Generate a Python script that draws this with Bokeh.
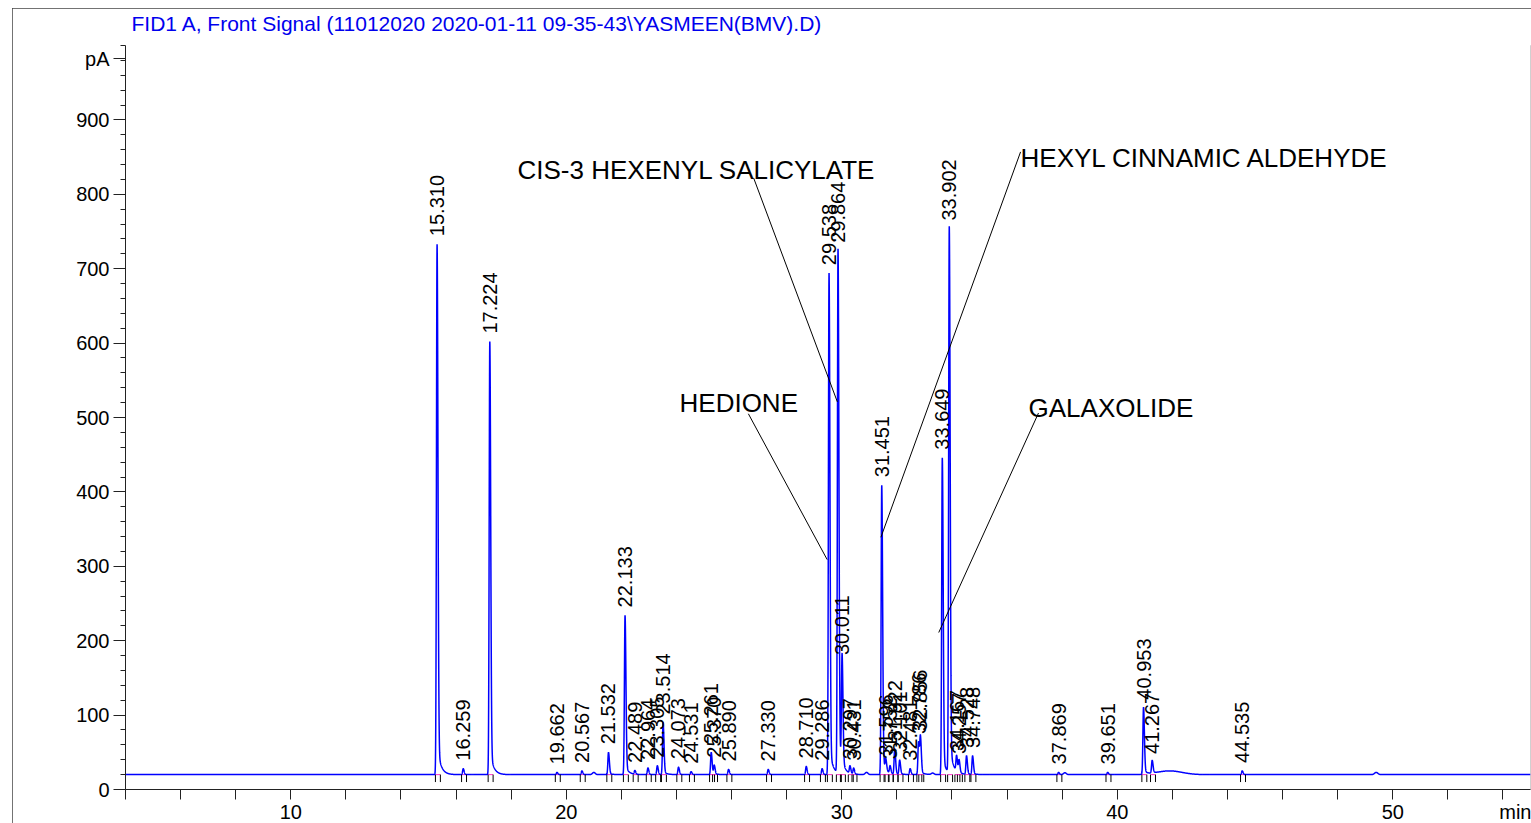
import numpy as np
from bokeh.plotting import figure
from bokeh.models import Range1d, FixedTicker, LinearAxis
from bokeh.core.properties import value
from bokeh.embed import file_html
from bokeh.resources import INLINE

# ---------------- data ----------------
title_text = "FID1 A, Front Signal (11012020 2020-01-11 09-35-43\\YASMEEN(BMV).D)"
title_pos = 16.76
y_unit = "pA"
x_unit = "min"

peak_label = ["15.310", "16.259", "17.224", "19.662", "20.567", "21.532", "22.133",
              "22.489", "22.964", "23.305", "23.514", "24.073", "24.531", "25.261",
              "25.370", "25.890", "27.330", "28.710", "29.286", "29.538", "29.864",
              "30.011", "30.297", "30.431", "31.451", "31.596", "31.752", "31.922",
              "32.101", "32.481", "32.786", "32.856", "33.649", "33.902", "34.167",
              "34.257", "34.528", "34.748", "37.869", "39.651", "40.953", "41.267",
              "44.535"]
peak_rt = [float(s) for s in peak_label]
peak_height = [733, 28, 602, 23, 25, 50, 234,
               25, 29, 32, 90, 30, 24, 50,
               32, 27, 27, 31, 28, 694, 724,
               170, 30, 28, 409, 35, 30, 54,
               39, 28, 64, 68, 446, 754, 41,
               37, 45, 45, 23, 23, 110, 37,
               25]

baseline_level = 20
# small unlabelled bumps / broad humps
bump_rt = [21.00, 30.90, 33.30, 38.10, 41.90, 49.40]
bump_height = [23, 23, 22, 22.5, 25, 23]
bump_width = [0.05, 0.05, 0.05, 0.05, 0.45, 0.06]

x_ticks = [10, 20, 30, 40, 50]
x_minor = list(range(4, 56, 2))
x_unit_pos = 54.7
y_ticks = [0, 100, 200, 300, 400, 500, 600, 700, 800, 900]
y_minor = list(range(0, 1001, 20))
y_unit_pos = 982

ann_text = ["CIS-3 HEXENYL SALICYLATE", "HEDIONE", "HEXYL CINNAMIC ALDEHYDE", "GALAXOLIDE"]
ann_x = [18.23, 24.11, 36.49, 36.78]
ann_y = [833, 519, 849, 513]
ann_x0 = [26.80, 26.61, 36.49, 37.14]
ann_y0 = [822, 505, 857, 506]
ann_x1 = [29.84, 29.47, 31.42, 33.52]
ann_y1 = [521, 309, 339, 211]

# ---------------- signal trace from the peak table ----------------
x = np.union1d(np.arange(4.0, 55.0001, 0.003), np.array(peak_rt))
y = np.full_like(x, float(baseline_level))
for rt, h in zip(peak_rt, peak_height):
    a = h - baseline_level
    d = x - rt
    g_left = np.exp(-0.5 * (d / 0.022) ** 2)
    g_right = np.exp(-0.5 * (d / 0.032) ** 2)
    tail = np.exp(-np.clip(d, 0, None) / 0.12)
    shape = np.where(d < 0, g_left, 0.94 * g_right + 0.06 * tail)
    y += a * shape
for rt, h, w in zip(bump_rt, bump_height, bump_width):
    y += (h - baseline_level) * np.exp(-0.5 * ((x - rt) / w) ** 2)

# ---------------- figure ----------------
p = figure(frame_width=1405, frame_height=744,
           x_range=Range1d(4, 55), y_range=Range1d(0, 1000),
           min_border_left=113, min_border_right=1,
           min_border_top=37, min_border_bottom=33,
           output_backend="svg", toolbar_location=None,
           background_fill_color="white", border_fill_color="white")
p.margin = (8, 0, 0, 12)
p.styles = {"outline": "1px solid #444", "outline-offset": "-1px"}
p.outline_line_color = None
p.xgrid.visible = False
p.ygrid.visible = False
p.title.text = ""

for ax in (p.xaxis[0], p.yaxis[0]):
    ax.axis_line_color = "#222"
    ax.axis_line_width = 1
    ax.major_tick_line_color = "#222"
    ax.minor_tick_line_color = "#222"
    ax.major_tick_in = 0
    ax.minor_tick_in = 0
    ax.major_label_text_font = "Liberation Sans"
    ax.major_label_text_font_size = "20px"
    ax.major_label_text_color = "black"

# x: all tick lines drawn as the (equal length) minor ticks; majors only carry labels
p.xaxis.ticker = FixedTicker(ticks=x_ticks + [x_unit_pos], minor_ticks=x_minor)
p.xaxis.major_label_overrides = {x_unit_pos: x_unit}
p.xaxis.major_tick_line_color = None
p.xaxis.major_tick_out = 10
p.xaxis.minor_tick_out = 10
p.xaxis.major_label_standoff = 1

p.yaxis.ticker = FixedTicker(ticks=y_ticks + [y_unit_pos], minor_ticks=y_minor)
p.yaxis.major_label_overrides = {y_unit_pos: y_unit}
p.yaxis.major_tick_out = 12
p.yaxis.minor_tick_out = 5
p.yaxis.major_label_standoff = 4

# chart title carried by a bare axis above the frame
top_axis = LinearAxis(ticker=FixedTicker(ticks=[title_pos], minor_ticks=[]),
                      major_label_overrides={title_pos: title_text},
                      axis_line_color=None, major_tick_line_color=None,
                      minor_tick_line_color=None, major_tick_out=0, major_tick_in=0,
                      minor_tick_out=0, minor_tick_in=0, major_label_standoff=11,
                      major_label_text_font="Liberation Sans",
                      major_label_text_font_size="21px",
                      major_label_text_color="#0000ee")
p.add_layout(top_axis, "above")

# integration baselines and event marks
seg_x0 = [r - 0.06 for r in peak_rt]
seg_x1 = [r + 0.12 for r in peak_rt]
p.segment(x0=seg_x0, y0=[baseline_level] * len(peak_rt), x1=seg_x1,
          y1=[baseline_level] * len(peak_rt), line_color="#ff33cc", line_width=1)

# signal
p.line(x, y, line_color="#0000ff", line_width=1.5)

mark_x = seg_x0 + seg_x1
p.segment(x0=mark_x, y0=[baseline_level] * len(mark_x), x1=mark_x,
          y1=[baseline_level - 10] * len(mark_x), line_color="black", line_width=1)

# peak retention-time labels
p.text(x=peak_rt, y=peak_height, text=peak_label, angle=np.pi / 2,
       text_align="left", text_baseline="middle", y_offset=-8,
       text_font=value("Liberation Sans"), text_font_size="20px", text_color="black")

# compound annotations
p.segment(x0=ann_x0, y0=ann_y0, x1=ann_x1, y1=ann_y1, line_color="black", line_width=1)
p.text(x=ann_x, y=ann_y, text=ann_text, text_align="left", text_baseline="alphabetic",
       text_font=value("Liberation Sans"), text_font_size="26px", text_color="black")

open("out.html", "w").write(file_html(p, INLINE))
